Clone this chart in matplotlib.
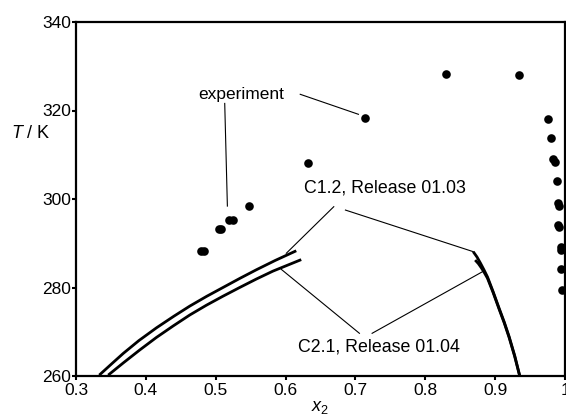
import matplotlib
matplotlib.use("Agg")
import matplotlib.pyplot as plt
from matplotlib.ticker import FixedLocator, FixedFormatter

plt.rcParams['font.family'] = ['Liberation Sans', 'DejaVu Sans']
plt.rcParams['mathtext.fontset'] = 'custom'
plt.rcParams['mathtext.rm'] = 'Liberation Sans'
plt.rcParams['mathtext.it'] = 'Liberation Sans:italic'

# experimental points
exp_x = [0.4793, 0.4836, 0.5053, 0.5081, 0.519, 0.5247, 0.547, 0.632, 0.713,
         0.829, 0.934, 0.975, 0.9795, 0.983, 0.986, 0.989, 0.990, 0.992,
         0.990, 0.992, 0.994, 0.994, 0.994, 0.995]
exp_T = [288.2, 288.2, 293.2, 293.2, 295.3, 295.3, 298.5, 308.2, 318.3,
         328.2, 328.0, 318.1, 313.8, 309.0, 308.4, 304.0, 299.2, 298.5,
         294.2, 293.6, 289.2, 288.4, 284.2, 279.4]

# C1.2, Release 01.03 (left and right branches)
c12_left_x = [0.3333, 0.35, 0.3676, 0.39, 0.4153, 0.44, 0.4629, 0.487,
              0.5104, 0.535, 0.5581, 0.585, 0.6153]
c12_left_T = [260.2, 262.6, 265.1, 268.0, 270.9, 273.5, 275.8, 278.0,
              280.0, 282.1, 284.0, 286.1, 288.3]
c12_right_x = [0.8686, 0.874, 0.879, 0.884, 0.889, 0.897, 0.9057, 0.913,
               0.920, 0.928, 0.9353]
c12_right_T = [288.1, 286.9, 285.5, 284.0, 282.4, 279.1, 275.3, 272.2,
               268.9, 264.6, 260.0]

# C2.1, Release 01.04
c21_left_x = [0.3461, 0.368, 0.3914, 0.415, 0.439, 0.463, 0.4867, 0.51,
              0.5343, 0.558, 0.5819, 0.6224]
c21_left_T = [260.2, 263.0, 265.9, 268.7, 271.3, 273.8, 276.0, 278.0,
              280.0, 281.9, 283.7, 286.3]
c21_right_x = [0.8714, 0.876, 0.880, 0.884, 0.889, 0.897, 0.9057, 0.913,
               0.920, 0.928, 0.9353]
c21_right_T = [286.2, 285.4, 284.5, 283.5, 282.1, 278.9, 275.1, 272.0,
               268.7, 264.4, 259.9]

x_ticks = [0.3, 0.4, 0.5, 0.6, 0.7, 0.8, 0.9, 1.0]
x_labels = ["0.3", "0.4", "0.5", "0.6", "0.7", "0.8", "0.9", "1"]
y_ticks = [260, 280, 300, 320, 340]
y_labels = ["260", "280", "300", "320", "340"]

fig = plt.figure(figsize=(5.66, 4.2), dpi=100)
ax = fig.add_axes([76/566, 1-376/420, 489/566, 354/420])

for xs, ts in [(c12_left_x, c12_left_T), (c21_left_x, c21_left_T),
               (c12_right_x, c12_right_T), (c21_right_x, c21_right_T)]:
    ax.plot(xs, ts, color='black', lw=2.0, solid_capstyle='butt',
            solid_joinstyle='round')
ax.plot(exp_x, exp_T, 'o', color='black', markersize=6.2, markeredgewidth=0)

# annotation leader lines
leaders = [
    ((0.5129, 321.6), (0.5167, 298.4)),
    ((0.621, 323.66), (0.7043, 319.14)),
    ((0.669, 298.26), (0.601, 287.73)),
    ((0.6857, 297.5), (0.8686, 288.1)),
    ((0.5939, 284.1), (0.7057, 269.65)),
    ((0.7239, 269.65), (0.8819, 283.57)),
]
for (x0, y0), (x1, y1) in leaders:
    ax.plot([x0, x1], [y0, y1], color='black', lw=0.8)

ax.text(0.5364, 323.7, "experiment", fontsize=12.5, ha='center', va='center')
ax.text(0.7429, 302.4, "C1.2, Release 01.03", fontsize=12.8, ha='center', va='center')
ax.text(0.7336, 266.6, "C2.1, Release 01.04", fontsize=12.8, ha='center', va='center')

ax.set_xlim(0.3, 1.0)
ax.set_ylim(260, 340)
ax.xaxis.set_major_locator(FixedLocator(x_ticks))
ax.xaxis.set_major_formatter(FixedFormatter(x_labels))
ax.yaxis.set_major_locator(FixedLocator(y_ticks))
ax.yaxis.set_major_formatter(FixedFormatter(y_labels))
ax.tick_params(direction='out', length=3, width=1.5, labelsize=12.5, pad=2)
ax.tick_params(axis='y', pad=0.5)
for s in ax.spines.values():
    s.set_linewidth(1.6)

ax.set_xlabel("$x_2$", fontsize=13, labelpad=1)
ax.text(-0.092, (376 - 133) / 354, "$T$ / K", transform=ax.transAxes, fontsize=13,
        ha='center', va='center')

fig.savefig("out.png", dpi=100)
